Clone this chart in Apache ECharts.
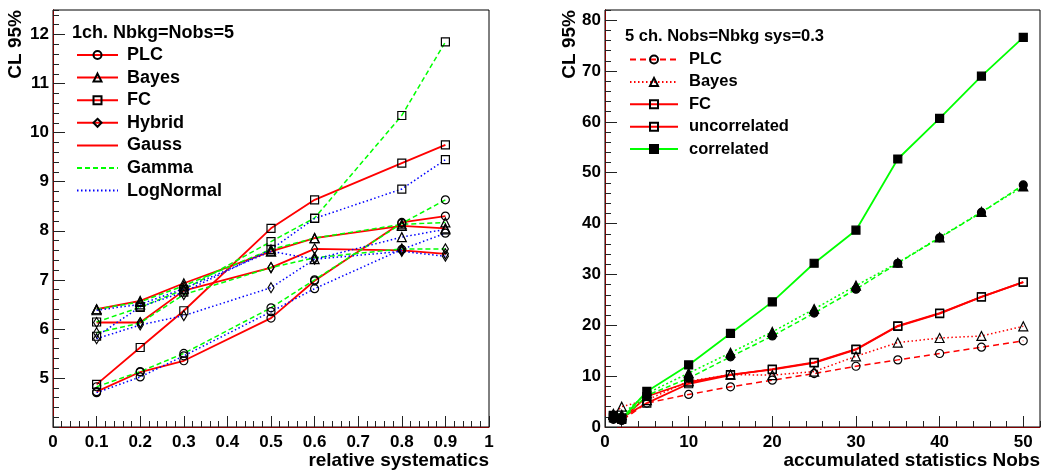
<!DOCTYPE html>
<html>
<head>
<meta charset="utf-8">
<title>CL 95% limits</title>
<script src="https://cdn.jsdelivr.net/npm/echarts@6/dist/echarts.min.js"></script>
<style>
    html, body { margin: 0; padding: 0; background: #fff; }
    #main { width: 1043px; height: 472px; }
</style>
</head>
<body>
<div id="main"></div>
<script>
    // left panel: 1 channel, Nbkg = Nobs = 5, x = relative systematics
    var relSys = [0.1, 0.2, 0.3, 0.5, 0.6, 0.8, 0.9];
    var plcGauss = [4.72, 5.12, 5.35, 6.22, 6.98, 8.17, 8.30];
    var plcGamma = [4.82, 5.13, 5.50, 6.43, 7.00, 8.15, 8.63];
    var plcLogN = [4.70, 5.02, 5.45, 6.35, 6.82, 7.62, 7.95];
    var bayesGauss = [6.40, 6.57, 6.93, 7.58, 7.85, 8.10, 8.05];
    var bayesGamma = [6.40, 6.55, 6.88, 7.62, 7.85, 8.13, 8.17];
    var bayesLogN = [6.38, 6.50, 6.82, 7.58, 7.42, 7.87, 8.03];
    var fcGauss = [4.87, 5.62, 6.37, 8.05, 8.63, 9.38, 9.75];
    var fcGamma = [6.14, 6.44, 6.80, 7.78, 8.26, 10.35, 11.85];
    var fcLogN = [5.85, 6.45, 6.75, 7.62, 8.25, 8.85, 9.45];
    var hybGauss = [6.13, 6.13, 6.78, 7.25, 7.63, 7.60, 7.53];
    var hybGamma = [5.92, 6.12, 6.70, 7.25, 7.45, 7.63, 7.63];
    var hybLogN = [5.80, 6.08, 6.27, 6.84, 7.42, 7.58, 7.48];

    // right panel: 5 channels, Nobs = Nbkg, sys = 0.3
    var nobs = [1, 2, 5, 10, 15, 20, 25, 30, 35, 40, 45, 50];
    var plc5 = [1.5, 1.3, 4.7, 6.4, 7.9, 9.2, 10.5, 11.95, 13.2, 14.45, 15.7, 16.95];
    var bayes5 = [2.4, 4.0, 5.3, 9.0, 10.3, 10.2, 10.9, 13.9, 16.6, 17.5, 17.9, 19.8];
    var fc5 = [2.3, 1.8, 4.7, 8.5, 10.2, 11.4, 12.7, 15.3, 19.9, 22.4, 25.6, 28.5];
    var uncorr5 = [1.8, 1.5, 6.0, 8.8, 10.3, 11.3, 12.6, 15.2, 19.8, 22.3, 25.6, 28.5];
    var corr5 = [2.2, 1.6, 7.0, 12.2, 18.4, 24.6, 32.2, 38.7, 52.7, 60.7, 69.0, 76.6];
    var corrBayes5 = [2.6, 2.4, 6.6, 10.6, 14.6, 18.7, 23.2, 27.8, 32.3, 37.3, 42.3, 47.3];
    var corrPlc5 = [1.6, 1.4, 6.2, 9.6, 13.8, 17.9, 22.4, 27.1, 32.2, 37.2, 42.2, 47.6];

    var FONT = 'Liberation Sans, Arial, Helvetica, sans-serif';
    var RED = '#ff0000', GREEN = '#00ff00', BLUE = '#0000ff';
    var FRAME_RED = '#800000';

    function pts(xs, ys) {
        return xs.map(function (x, i) { return [x, ys[i]]; });
    }

    // g = grid index, each grid has 2 x axes and 3 y axes
    function line(name, g, xs, ys, color, dash, symbol, size, filled) {
        return {
            name: name,
            type: 'line',
            xAxisIndex: g * 2,
            yAxisIndex: g * 3,
            data: pts(xs, ys),
            symbol: symbol,
            symbolSize: size,
            showSymbol: true,
            animation: false,
            lineStyle: {color: color, width: dash === 'solid' ? 1.8 : 1.5, type: dash},
            itemStyle: {color: filled ? '#000' : 'rgba(0,0,0,0)', borderColor: '#000', borderWidth: 1.2},
            emphasis: {disabled: true}
        };
    }

    function legendOnly(name, color, dash) {
        return {
            name: name, type: 'line', xAxisIndex: 0, yAxisIndex: 0, data: [],
            symbol: 'circle', symbolSize: 1,
            lineStyle: {color: color, width: dash === 'solid' ? 1.8 : 1.5, type: dash},
            itemStyle: {color: 'rgba(0,0,0,0)', borderColor: 'rgba(0,0,0,0)', opacity: 0}
        };
    }

    function xMajor(g, min, max, interval) {
        return {
            gridIndex: g, type: 'value', position: 'bottom', min: min, max: max, interval: interval,
            axisLine: {show: true, onZero: false, lineStyle: {color: FRAME_RED, width: 1}},
            axisTick: {show: true, inside: true, length: 11, lineStyle: {color: '#222'}},
            axisLabel: {color: '#000', fontFamily: FONT, fontWeight: 'bold', fontSize: 17, margin: 7, showMaxLabel: g === 0},
            splitLine: {show: false}
        };
    }
    function xMinor(g, min, max, interval) {
        return {
            gridIndex: g, type: 'value', position: 'bottom', min: min, max: max, interval: interval,
            axisLine: {show: false}, axisLabel: {show: false}, splitLine: {show: false},
            axisTick: {show: true, inside: true, length: 6, lineStyle: {color: '#222'}}
        };
    }
    function yMajor(g, min, max, interval, showMin) {
        return {
            gridIndex: g, type: 'value', position: 'left', min: min, max: max, interval: interval,
            axisLine: {show: true, onZero: false, lineStyle: {color: '#000', width: 1}},
            axisTick: {show: true, inside: true, length: 12, lineStyle: {color: '#222'}},
            axisLabel: {color: '#000', fontFamily: FONT, fontWeight: 'bold', fontSize: 17, margin: 4,
                showMinLabel: showMin, showMaxLabel: false},
            splitLine: {show: false}
        };
    }
    function yMinor(g, min, max, interval) {
        return {
            gridIndex: g, type: 'value', position: 'left', min: min, max: max, interval: interval,
            axisLine: {show: false}, axisLabel: {show: false}, splitLine: {show: false},
            axisTick: {show: true, inside: true, length: 6, lineStyle: {color: '#222'}}
        };
    }
    function yEdge(g, min, max) {
        return {
            gridIndex: g, type: 'value', position: 'right', min: min, max: max,
            axisLine: {show: true, lineStyle: {color: FRAME_RED, width: 1}},
            axisTick: {show: false}, axisLabel: {show: false}, splitLine: {show: false}
        };
    }

    var titleFont = {fontFamily: FONT, fontWeight: 'bold', color: '#000'};

    var myChart = echarts.init(document.getElementById('main'));
    myChart.setOption({
        animation: false,
        backgroundColor: '#fff',
        title: [
            {text: '1ch. Nbkg=Nobs=5', left: 72, top: 24, padding: 0,
                textStyle: Object.assign({fontSize: 18}, titleFont)},
            {text: '5 ch. Nobs=Nbkg sys=0.3', left: 625, top: 28, padding: 0,
                textStyle: Object.assign({fontSize: 16.5}, titleFont)},
            {text: 'relative systematics', right: 554, top: 451, padding: 0,
                textStyle: Object.assign({fontSize: 19}, titleFont)},
            {text: 'accumulated statistics Nobs', right: 3, top: 451, padding: 0,
                textStyle: Object.assign({fontSize: 19}, titleFont)}
        ],
        legend: [
            {
                orient: 'vertical', left: 76, top: 46, padding: 0, itemGap: 4.6,
                itemWidth: 41, itemHeight: 10, selectedMode: false,
                textStyle: {fontFamily: FONT, fontWeight: 'bold', fontSize: 18, color: '#000', padding: [0, 0, 0, 4]},
                data: ['PLC', 'Bayes', 'FC', 'Hybrid', 'Gauss', 'Gamma', 'LogNormal']
            },
            {
                orient: 'vertical', left: 629, top: 51, padding: 0, itemGap: 5.4,
                itemWidth: 48, itemHeight: 10, selectedMode: false,
                formatter: function (n) { return n.replace(/^R /, ''); },
                textStyle: {fontFamily: FONT, fontWeight: 'bold', fontSize: 16.5, color: '#000', padding: [0, 0, 0, 6]},
                data: ['R PLC', 'R Bayes', 'R FC', 'R uncorrelated', 'R correlated']
            }
        ],
        grid: [
            {left: 53, top: 10, width: 436, height: 417, show: true, borderColor: '#000', borderWidth: 1,
                backgroundColor: 'transparent', outerBoundsMode: 'none'},
            {left: 605, top: 10, width: 435, height: 417, show: true, borderColor: '#000', borderWidth: 1,
                backgroundColor: 'transparent', outerBoundsMode: 'none'}
        ],
        xAxis: [
            xMajor(0, 0, 1, 0.1), xMinor(0, 0, 1, 0.02),
            xMajor(1, 0, 52, 10), xMinor(1, 0, 52, 2)
        ],
        yAxis: [
            yMajor(0, 4, 12.5, 1, false), yMinor(0, 4, 12.5, 0.2), yEdge(0, 4, 12.5),
            yMajor(1, 0, 82, 10, true), yMinor(1, 0, 82, 2), yEdge(1, 0, 82)
        ],
        graphic: [
            {type: 'text', x: 16, y: 10, rotation: Math.PI / 2,
                style: {text: 'CL 95%', font: 'bold 19px ' + FONT, fill: '#000', align: 'right', verticalAlign: 'middle'}},
            {type: 'text', x: 570, y: 10, rotation: Math.PI / 2,
                style: {text: 'CL 95%', font: 'bold 19px ' + FONT, fill: '#000', align: 'right', verticalAlign: 'middle'}}
        ],
        series: [
            // left: Gauss (red solid), Gamma (green dashed), LogNormal (blue dotted)
            line('PLC', 0, relSys, plcGauss, RED, 'solid', 'circle', 8, false),
            line('Bayes', 0, relSys, bayesGauss, RED, 'solid', 'triangle', 9, false),
            line('FC', 0, relSys, fcGauss, RED, 'solid', 'rect', 8, false),
            line('Hybrid', 0, relSys, hybGauss, RED, 'solid', 'diamond', [6, 10], false),
            line('PLC gamma', 0, relSys, plcGamma, GREEN, [5, 3], 'circle', 8, false),
            line('Bayes gamma', 0, relSys, bayesGamma, GREEN, [5, 3], 'triangle', 9, false),
            line('FC gamma', 0, relSys, fcGamma, GREEN, [5, 3], 'rect', 8, false),
            line('Hybrid gamma', 0, relSys, hybGamma, GREEN, [5, 3], 'diamond', [6, 10], false),
            line('PLC lognormal', 0, relSys, plcLogN, BLUE, [1.5, 2.5], 'circle', 8, false),
            line('Bayes lognormal', 0, relSys, bayesLogN, BLUE, [1.5, 2.5], 'triangle', 9, false),
            line('FC lognormal', 0, relSys, fcLogN, BLUE, [1.5, 2.5], 'rect', 8, false),
            line('Hybrid lognormal', 0, relSys, hybLogN, BLUE, [1.5, 2.5], 'diamond', [6, 10], false),
            legendOnly('Gauss', RED, 'solid'),
            legendOnly('Gamma', GREEN, [5, 3]),
            legendOnly('LogNormal', BLUE, [1.5, 2.5]),

            // right panel
            line('R PLC', 1, nobs, plc5, RED, [6, 4], 'circle', 8, false),
            line('R Bayes', 1, nobs, bayes5, RED, [1.5, 2.5], 'triangle', 9, false),
            line('R FC', 1, nobs, fc5, RED, 'solid', 'rect', 8, false),
            line('R uncorrelated', 1, nobs, uncorr5, RED, 'solid', 'rect', 8, false),
            line('R corr PLC', 1, nobs, corrPlc5, GREEN, [5, 3], 'circle', 8, true),
            line('R corr Bayes', 1, nobs, corrBayes5, GREEN, [2, 2.5], 'triangle', 9, true),
            line('R correlated', 1, nobs, corr5, GREEN, 'solid', 'rect', 8, true)
        ]
    });
</script>
</body>
</html>
